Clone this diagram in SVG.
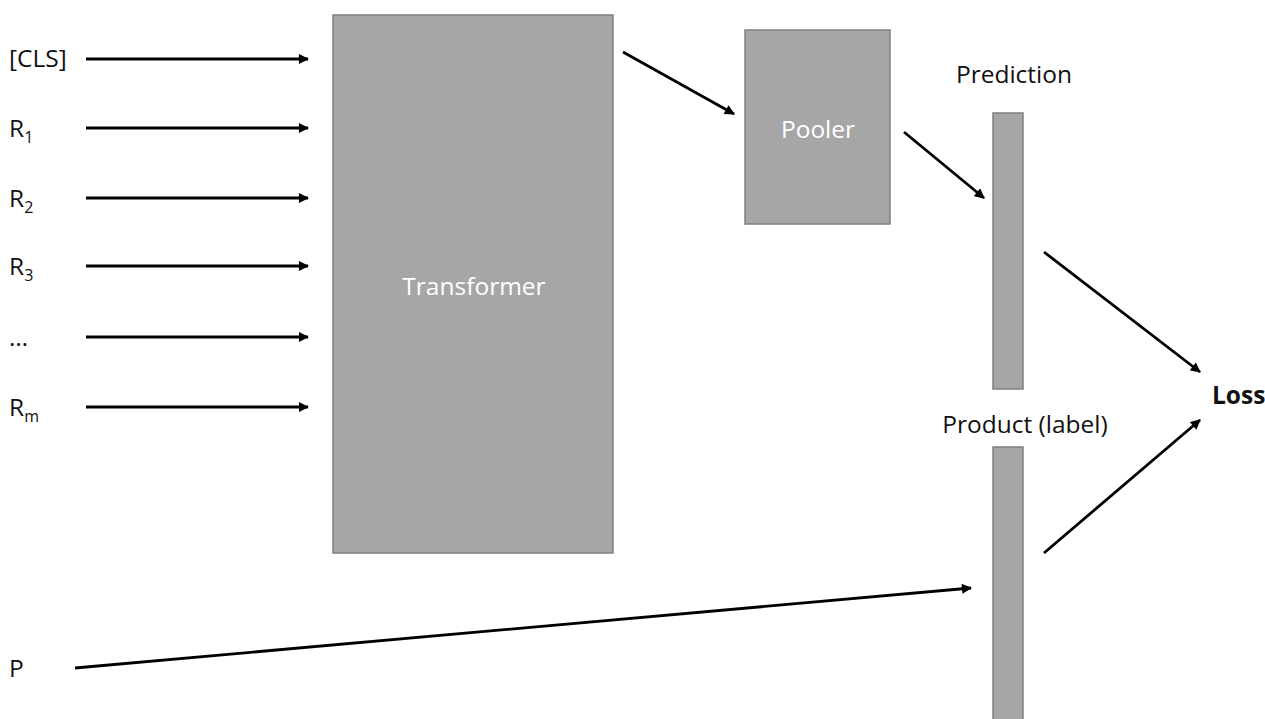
<svg xmlns="http://www.w3.org/2000/svg" width="1265" height="719" viewBox="0 0 1265 719">
<defs>
<marker id="ah" viewBox="0 0 10 10" refX="9" refY="5" markerWidth="4" markerHeight="3.6" markerUnits="strokeWidth" orient="auto">
<path d="M0,0 L10,5 L0,10 Z" fill="#000"/>
</marker>
<style>
.box{fill:#a6a6a6;stroke:#7f7f7f;stroke-width:1.5}
.t{font-family:"Open Sans","Noto Sans","Liberation Sans",sans-serif;font-size:24.5px;fill:#111}
.w{fill:#fff;text-anchor:middle}
.sub{font-size:16px}
.c{stroke:#000;stroke-width:2.8;fill:none;marker-end:url(#ah)}
</style>
</defs>
<rect width="1265" height="719" fill="#fff"/>
<g id="inputs">
<text class="t" x="9" y="67">[CLS]</text>
<text class="t" x="9" y="137">R<tspan class="sub" dy="6">1</tspan></text>
<text class="t" x="9" y="207">R<tspan class="sub" dy="6">2</tspan></text>
<text class="t" x="9" y="275">R<tspan class="sub" dy="6">3</tspan></text>
<text class="t" x="9" y="346">…</text>
<text class="t" x="9" y="416">R<tspan class="sub" dy="6">m</tspan></text>
<text class="t" x="9" y="677">P</text>
</g>
<g id="transformer">
<rect class="box" x="333" y="15" width="280" height="538"/>
<text class="t w" x="474" y="295">Transformer</text>
</g>
<g id="pooler">
<rect class="box" x="745" y="30" width="145" height="194"/>
<text class="t w" x="818" y="138">Pooler</text>
</g>
<g id="prediction">
<rect class="box" x="993" y="113" width="30" height="276"/>
<text class="t" x="1014" y="83" text-anchor="middle">Prediction</text>
</g>
<g id="product">
<rect class="box" x="993" y="447" width="30" height="280"/>
<text class="t" x="1025" y="433" text-anchor="middle">Product (label)</text>
</g>
<g id="loss">
<text class="t" x="1212" y="404" font-weight="bold">Loss</text>
</g>
<g id="connectors">
<line class="c" x1="86" y1="59" x2="308" y2="59"/>
<line class="c" x1="86" y1="128" x2="308" y2="128"/>
<line class="c" x1="86" y1="198" x2="308" y2="198"/>
<line class="c" x1="86" y1="266" x2="308" y2="266"/>
<line class="c" x1="86" y1="337" x2="308" y2="337"/>
<line class="c" x1="86" y1="407" x2="308" y2="407"/>
<line class="c" x1="623" y1="52" x2="734" y2="114"/>
<line class="c" x1="904" y1="132" x2="984" y2="198"/>
<line class="c" x1="1044" y1="252" x2="1200" y2="372"/>
<line class="c" x1="1044" y1="553" x2="1200" y2="420"/>
<line class="c" x1="75" y1="668" x2="971" y2="588"/>
</g>
</svg>
